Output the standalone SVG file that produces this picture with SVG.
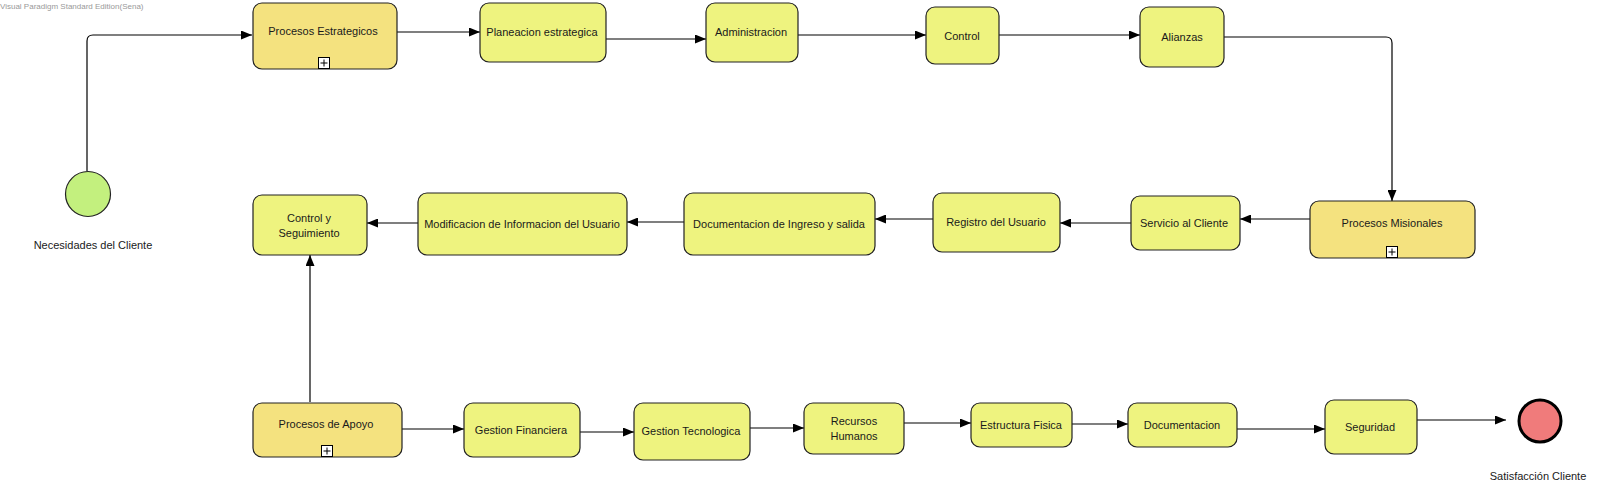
<svg xmlns="http://www.w3.org/2000/svg" width="1622" height="500" viewBox="0 0 1622 500">
<style>
.task{fill:#EEF37F;stroke:#222;stroke-width:1.2}
.sub{fill:#F4E27F;stroke:#222;stroke-width:1.2}
.plus{fill:#fff;stroke:#000;stroke-width:1}
.t{font-family:"Liberation Sans",Arial,sans-serif;font-size:11px;fill:#1a1a1a;text-anchor:middle}
.wm{font-family:"Liberation Sans",Arial,sans-serif;font-size:8px;fill:#999}
.c{fill:none;stroke:#000;stroke-width:1.2}
</style>
<defs>
<marker id="ah" markerUnits="userSpaceOnUse" markerWidth="12" markerHeight="9" refX="11" refY="4.5" orient="auto">
<path d="M0,0 L11,4.5 L0,9 z" fill="#000"/>
</marker>
</defs>
<rect width="1622" height="500" fill="#fff"/>
<text class="wm" x="0" y="9">Visual Paradigm Standard Edition(Sena)</text>
<g id="connectors">
<path class="c" d="M87,171 V41 Q87,35 93,35 H252" marker-end="url(#ah)"/>
<path class="c" d="M397,32 H480" marker-end="url(#ah)"/>
<path class="c" d="M606,39 H706" marker-end="url(#ah)"/>
<path class="c" d="M798,35 H926" marker-end="url(#ah)"/>
<path class="c" d="M999,35 H1140" marker-end="url(#ah)"/>
<path class="c" d="M1224,37 H1386 Q1392,37 1392,43 V201" marker-end="url(#ah)"/>
<path class="c" d="M1310,219 H1240" marker-end="url(#ah)"/>
<path class="c" d="M1131,223 H1060" marker-end="url(#ah)"/>
<path class="c" d="M933,219 H875" marker-end="url(#ah)"/>
<path class="c" d="M684,222 H627" marker-end="url(#ah)"/>
<path class="c" d="M418,223 H367" marker-end="url(#ah)"/>
<path class="c" d="M310,402 V255" marker-end="url(#ah)"/>
<path class="c" d="M402,429 H464" marker-end="url(#ah)"/>
<path class="c" d="M580,432 H634" marker-end="url(#ah)"/>
<path class="c" d="M750,428 H804" marker-end="url(#ah)"/>
<path class="c" d="M904,423 H971" marker-end="url(#ah)"/>
<path class="c" d="M1072,424 H1128" marker-end="url(#ah)"/>
<path class="c" d="M1237,429 H1325" marker-end="url(#ah)"/>
<path class="c" d="M1417,420 H1506" marker-end="url(#ah)"/>
</g>
<g id="start">
<circle cx="88" cy="194" r="22.5" fill="#C3F07E" stroke="#222" stroke-width="1.2"/>
<text class="t" x="93" y="249">Necesidades del Cliente</text>
</g>
<g id="procesos-estrategicos">
<rect class="sub" x="253" y="3" width="144" height="66" rx="9"/>
<text class="t" x="323" y="35">Procesos Estrategicos</text>
<rect class="plus" x="318.5" y="57.5" width="11" height="11"/>
<path d="M320.5,63 H327.5 M324,59.5 V66.5" stroke="#000" stroke-width="1"/>
</g>
<g id="planeacion">
<rect class="task" x="480" y="3" width="126" height="59" rx="9"/>
<text class="t" x="542" y="36">Planeacion estrategica</text>
</g>
<g id="administracion">
<rect class="task" x="706" y="3" width="92" height="59" rx="9"/>
<text class="t" x="751" y="36">Administracion</text>
</g>
<g id="control">
<rect class="task" x="926" y="7" width="73" height="57" rx="9"/>
<text class="t" x="962" y="40">Control</text>
</g>
<g id="alianzas">
<rect class="task" x="1140" y="7" width="84" height="60" rx="9"/>
<text class="t" x="1182" y="41">Alianzas</text>
</g>
<g id="procesos-misionales">
<rect class="sub" x="1310" y="201" width="165" height="57" rx="9"/>
<text class="t" x="1392" y="227">Procesos Misionales</text>
<rect class="plus" x="1386.5" y="246.5" width="11" height="11"/>
<path d="M1388.5,252 H1395.5 M1392,248.5 V255.5" stroke="#000" stroke-width="1"/>
</g>
<g id="servicio">
<rect class="task" x="1131" y="196" width="109" height="54" rx="9"/>
<text class="t" x="1184" y="227">Servicio al Cliente</text>
</g>
<g id="registro">
<rect class="task" x="933" y="193" width="127" height="59" rx="9"/>
<text class="t" x="996" y="226">Registro del Usuario</text>
</g>
<g id="documentacion-ingreso">
<rect class="task" x="684" y="193" width="191" height="62" rx="9"/>
<text class="t" x="779" y="228">Documentacion de Ingreso y salida</text>
</g>
<g id="modificacion">
<rect class="task" x="418" y="193" width="209" height="62" rx="9"/>
<text class="t" x="522" y="228">Modificacion de Informacion del Usuario</text>
</g>
<g id="control-seguimiento">
<rect class="task" x="253" y="195" width="114" height="60" rx="9"/>
<text class="t" x="309" y="222">Control y</text>
<text class="t" x="309" y="237">Seguimiento</text>
</g>
<g id="procesos-apoyo">
<rect class="sub" x="253" y="403" width="149" height="54" rx="9"/>
<text class="t" x="326" y="428">Procesos de Apoyo</text>
<rect class="plus" x="321.5" y="445.5" width="11" height="11"/>
<path d="M323.5,451 H330.5 M327,447.5 V454.5" stroke="#000" stroke-width="1"/>
</g>
<g id="gestion-financiera">
<rect class="task" x="464" y="403" width="116" height="54" rx="9"/>
<text class="t" x="521" y="434">Gestion Financiera</text>
</g>
<g id="gestion-tecnologica">
<rect class="task" x="634" y="403" width="116" height="57" rx="9"/>
<text class="t" x="691" y="435">Gestion Tecnologica</text>
</g>
<g id="recursos-humanos">
<rect class="task" x="804" y="403" width="100" height="51" rx="9"/>
<text class="t" x="854" y="425">Recursos</text>
<text class="t" x="854" y="440">Humanos</text>
</g>
<g id="estructura-fisica">
<rect class="task" x="971" y="403" width="101" height="44" rx="9"/>
<text class="t" x="1021" y="429">Estructura Fisica</text>
</g>
<g id="documentacion">
<rect class="task" x="1128" y="403" width="109" height="44" rx="9"/>
<text class="t" x="1182" y="429">Documentacion</text>
</g>
<g id="seguridad">
<rect class="task" x="1325" y="400" width="92" height="54" rx="9"/>
<text class="t" x="1370" y="431">Seguridad</text>
</g>
<g id="end">
<circle cx="1540" cy="421" r="21" fill="#F07B7B" stroke="#000" stroke-width="3"/>
<text class="t" x="1538" y="480">Satisfacción Cliente</text>
</g>
</svg>
